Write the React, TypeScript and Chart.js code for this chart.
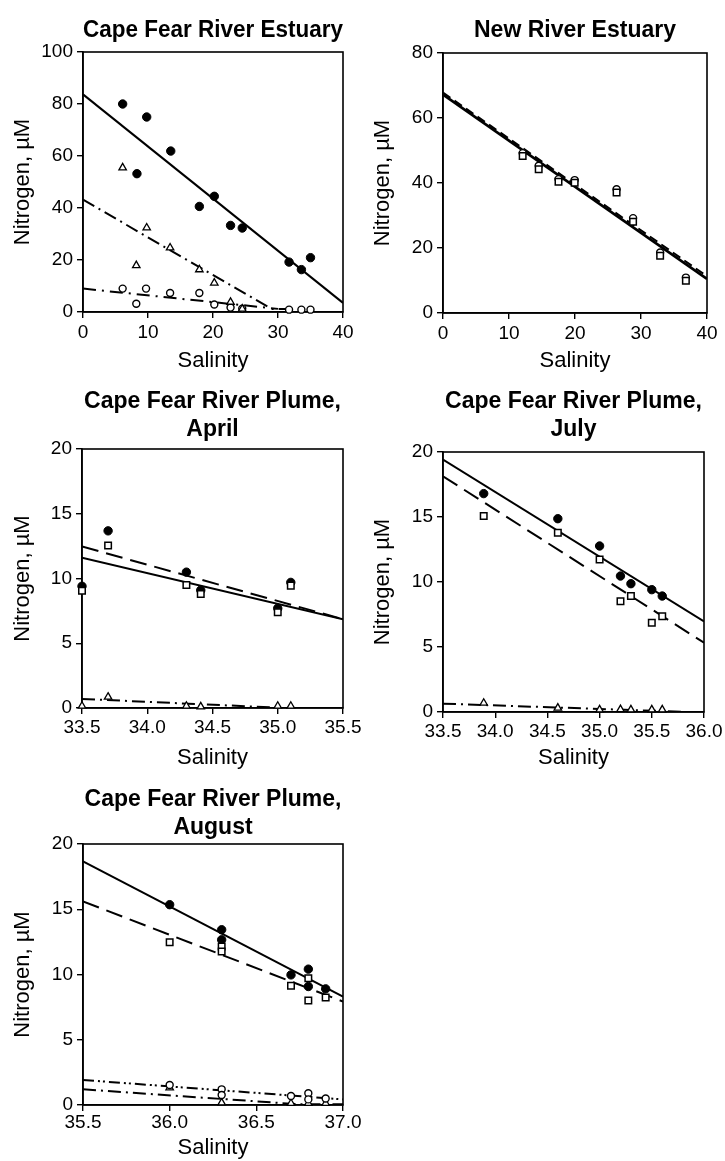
import React, { useEffect, useRef } from 'react';
import { Chart, registerables } from 'chart.js';

Chart.register(...registerables);

const FONT = '"Liberation Sans", Arial, Helvetica, sans-serif';

// ---------- Panel 1: Cape Fear River Estuary ----------
const cfeSalTotal = [6.1, 9.8, 8.3, 13.5, 17.9, 20.2, 22.7, 24.5, 31.7, 33.6, 35.0];
const cfeTotal = [80, 75, 53.2, 61.9, 40.6, 44.5, 33.3, 32.3, 19.2, 16.3, 20.9];
const cfeSalTri = [6.1, 9.8, 8.2, 13.4, 17.9, 20.2, 22.7, 24.5];
const cfeTri = [55.5, 32.4, 17.9, 24.7, 16.3, 11.2, 3.8, 1.2];
const cfeSalCirc = [6.1, 9.7, 8.2, 13.4, 17.9, 20.2, 22.7, 24.5, 31.7, 33.6, 35.0];
const cfeCirc = [9.0, 9.0, 3.2, 7.3, 7.3, 2.9, 1.7, 1.3, 0.9, 0.9, 0.9];
const cfeFitTotalX = [0, 40];
const cfeFitTotal = [83.7, 3.5];
const cfeFitTriX = [0, 29, 31.5];
const cfeFitTri = [43.2, 1.2, 1.2];
const cfeFitCircX = [0, 30];
const cfeFitCirc = [9.0, 1.2];
const estXTicks = [0, 10, 20, 30, 40];
const cfeYTicks = [0, 20, 40, 60, 80, 100];

// ---------- Panel 2: New River Estuary ----------
const nreSal = [12.07, 14.5, 17.5, 19.95, 26.3, 28.8, 32.9, 36.8];
const nreSquare = [48.3, 44.2, 40.4, 40.1, 37.1, 28.1, 17.6, 9.9];
const nreCircle = [49.2, 45.3, 41.2, 40.9, 38.1, 29.2, 18.6, 10.9];
const nreFitX = [0, 40];
const nreFitA = [67.2, 10.5];
const nreFitB = [67.8, 11.3];
const nreYTicks = [0, 20, 40, 60, 80];

// ---------- Panel 3: Cape Fear River Plume, April ----------
const aprSal = [33.5, 33.7, 34.3, 34.41, 35.0, 35.1];
const aprTotal = [9.4, 13.68, 10.49, 9.1, 7.7, 9.7];
const aprSquare = [9.05, 12.55, 9.5, 8.8, 7.4, 9.45];
const aprTri = [0.15, 0.85, 0.15, 0.1, 0.15, 0.15];
const aprFitX = [33.5, 35.5];
const aprFitTotal = [11.6, 6.86];
const aprFitSquare = [12.47, 6.86];
const aprFitTriX = [33.5, 34.95];
const aprFitTri = [0.7, 0.05];
const aprXTicks = [33.5, 34.0, 34.5, 35.0, 35.5];

// ---------- Panel 4: Cape Fear River Plume, July ----------
const julSal = [33.89, 34.6, 35.0, 35.2, 35.3, 35.5, 35.6];
const julTotal = [16.8, 14.87, 12.77, 10.46, 9.87, 9.41, 8.92];
const julSquare = [15.08, 13.79, 11.74, 8.51, 8.92, 6.87, 7.36];
const julTri = [0.69, 0.31, 0.18, 0.2, 0.18, 0.18, 0.18];
const julFitX = [33.5, 36.0];
const julFitTotal = [19.41, 6.97];
const julFitSquare = [18.13, 5.33];
const julFitTriX = [33.5, 35.8];
const julFitTri = [0.64, 0.02];
const julXTicks = [33.5, 34.0, 34.5, 35.0, 35.5, 36.0];

// ---------- Panel 5: Cape Fear River Plume, August ----------
const augSal = [36.0, 36.3, 36.3, 36.7, 36.8, 36.8, 36.9];
const augTotal = [15.35, 13.43, 12.66, 9.97, 10.41, 9.08, 8.9];
const augSquare = [12.48, 12.15, 11.76, 9.13, 9.72, 8.0, 8.24];
const augCircle = [1.53, 1.2, 0.77, 0.69, 0.9, 0.43, 0.5];
const augTriSal = [36.0, 36.3, 36.7, 36.8, 36.9];
const augTri = [1.33, 0.18, 0.13, 0.13, 0.13];
const augFitX = [35.5, 37.0];
const augFitTotal = [18.67, 8.31];
const augFitSquare = [15.6, 7.93];
const augFitCircle = [1.92, 0.43];
const augFitTriX = [35.5, 36.75, 37.0];
const augFitTri = [1.2, 0.05, 0.05];
const augXTicks = [35.5, 36.0, 36.5, 37.0];

const plumeYTicks = [0, 5, 10, 15, 20];

// ---------- helpers ----------
const pts = (xs: number[], ys: number[]) => xs.map((x, i) => ({ x, y: ys[i] }));

const filledCircle = (label: string, xs: number[], ys: number[]) => ({
  label, data: pts(xs, ys), pointStyle: 'circle', pointRadius: 4.2,
  backgroundColor: '#000', borderColor: '#000', borderWidth: 1, showLine: false, clip: false, order: 2,
});
const openSquare = (label: string, xs: number[], ys: number[]) => ({
  label, data: pts(xs, ys), pointStyle: 'rect', pointRadius: 4.6,
  backgroundColor: '#fff', borderColor: '#000', borderWidth: 1.5, showLine: false, clip: false, order: 1,
});
const openTriangle = (label: string, xs: number[], ys: number[]) => ({
  label, data: pts(xs, ys), pointStyle: 'triangle', pointRadius: 4.3,
  backgroundColor: '#fff', borderColor: '#000', borderWidth: 1.3, showLine: false, clip: false, order: 1,
});
const openCircle = (label: string, xs: number[], ys: number[]) => ({
  label, data: pts(xs, ys), pointStyle: 'circle', pointRadius: 3.5,
  backgroundColor: '#fff', borderColor: '#000', borderWidth: 1.4, showLine: false, clip: false, order: 1,
});
const fitLine = (label: string, xs: number[], ys: number[], dash: number[], width = 2) => ({
  label, data: pts(xs, ys), showLine: true, pointRadius: 0, borderColor: '#000',
  borderWidth: width, borderDash: dash, fill: false, tension: 0, order: 5,
});

const SOLID: number[] = [];
const LONGDASH = [17, 8];
const DASHDOT = [13, 5, 2, 5];
const DASHDOTDOT = [11, 4, 2, 3, 2, 4];

type Spec = {
  key: string; left: number; top: number; width: number; height: number;
  plot: [number, number, number, number];
  title: string[]; titleCenterY: number; yTitleCenterX: number; xTitleCenterY: number; xTickPad: number;
  xMin: number; xMax: number; xTicks: number[]; yMax: number; yTicks: number[]; decimals: number;
  datasets: any[];
};

const specs: Spec[] = [
  {
    key: 'cfe', left: 0, top: 0, width: 360, height: 380, plot: [83, 52, 343, 312],
    title: ['Cape Fear River Estuary'], titleCenterY: 31, yTitleCenterX: 22.5, xTitleCenterY: 361, xTickPad: 3,
    xMin: 0, xMax: 40, xTicks: estXTicks, yMax: 100, yTicks: cfeYTicks, decimals: 0,
    datasets: [
      filledCircle('Total N', cfeSalTotal, cfeTotal),
      openTriangle('Triangles', cfeSalTri, cfeTri),
      openCircle('Circles', cfeSalCirc, cfeCirc),
      fitLine('Total fit', cfeFitTotalX, cfeFitTotal, SOLID),
      fitLine('Triangle fit', cfeFitTriX, cfeFitTri, DASHDOT),
      fitLine('Circle fit', cfeFitCircX, cfeFitCirc, [13, 6, 2, 6]),
    ],
  },
  {
    key: 'nre', left: 360, top: 0, width: 365, height: 380, plot: [443, 53, 707, 313],
    title: ['New River Estuary'], titleCenterY: 31, yTitleCenterX: 382.5, xTitleCenterY: 361, xTickPad: 3,
    xMin: 0, xMax: 40, xTicks: estXTicks, yMax: 80, yTicks: nreYTicks, decimals: 0,
    datasets: [
      openCircle('Circles', nreSal, nreCircle),
      { ...openSquare('Squares', nreSal, nreSquare), order: 0 },
      fitLine('Fit A', nreFitX, nreFitA, SOLID, 2.8),
      fitLine('Fit B', nreFitX, nreFitB, [9, 5], 2),
    ],
  },
  {
    key: 'apr', left: 0, top: 380, width: 362, height: 400, plot: [82, 449, 343, 708],
    title: ['Cape Fear River Plume,', 'April'], titleCenterY: 402, yTitleCenterX: 22.5, xTitleCenterY: 758, xTickPad: 2,
    xMin: 33.5, xMax: 35.5, xTicks: aprXTicks, yMax: 20, yTicks: plumeYTicks, decimals: 1,
    datasets: [
      filledCircle('Total N', aprSal, aprTotal),
      openSquare('Squares', aprSal, aprSquare),
      openTriangle('Triangles', aprSal, aprTri),
      fitLine('Total fit', aprFitX, aprFitTotal, SOLID),
      fitLine('Square fit', aprFitX, aprFitSquare, LONGDASH),
      fitLine('Triangle fit', aprFitTriX, aprFitTri, DASHDOT),
    ],
  },
  {
    key: 'jul', left: 360, top: 380, width: 365, height: 400, plot: [443, 452, 704, 712],
    title: ['Cape Fear River Plume,', 'July'], titleCenterY: 402, yTitleCenterX: 382.5, xTitleCenterY: 758, xTickPad: 2,
    xMin: 33.5, xMax: 36.0, xTicks: julXTicks, yMax: 20, yTicks: plumeYTicks, decimals: 1,
    datasets: [
      filledCircle('Total N', julSal, julTotal),
      openSquare('Squares', julSal, julSquare),
      openTriangle('Triangles', julSal, julTri),
      fitLine('Total fit', julFitX, julFitTotal, SOLID),
      fitLine('Square fit', julFitX, julFitSquare, LONGDASH),
      fitLine('Triangle fit', julFitTriX, julFitTri, DASHDOT),
    ],
  },
  {
    key: 'aug', left: 0, top: 780, width: 365, height: 381, plot: [83, 844, 343, 1105],
    title: ['Cape Fear River Plume,', 'August'], titleCenterY: 800, yTitleCenterX: 22.5, xTitleCenterY: 1148, xTickPad: 0,
    xMin: 35.5, xMax: 37.0, xTicks: augXTicks, yMax: 20, yTicks: plumeYTicks, decimals: 1,
    datasets: [
      filledCircle('Total N', augSal, augTotal),
      openSquare('Squares', augSal, augSquare),
      openCircle('Circles', augSal, augCircle),
      openTriangle('Triangles', augTriSal, augTri),
      fitLine('Total fit', augFitX, augFitTotal, SOLID),
      fitLine('Square fit', augFitX, augFitSquare, LONGDASH),
      fitLine('Circle fit', augFitX, augFitCircle, DASHDOTDOT),
      fitLine('Triangle fit', augFitTriX, augFitTri, DASHDOT),
    ],
  },
];

const TITLE_SIZE = 23;
const AXIS_TITLE_SIZE = 22;
const TICK_SIZE = 19;
const TICK_LEN = 6;
const LH = 1.2;
const TEXT = '#000';

const framePlugin = {
  id: 'frame',
  beforeDatasetsDraw(chart: any) {
    const { ctx, chartArea: a } = chart;
    ctx.save();
    ctx.strokeStyle = '#000';
    ctx.lineWidth = 1.6;
    ctx.strokeRect(a.left, a.top, a.right - a.left, a.bottom - a.top);
    ctx.restore();
  },
};

function buildConfig(s: Spec): any {
  const [pl, pt, pr, pb] = s.plot;
  const tLH = TITLE_SIZE * LH;
  const aLH = AXIS_TITLE_SIZE * LH;
  const titlePadTop = s.titleCenterY - s.top - tLH / 2;
  const titlePadBottom = Math.max(0, pt - s.top - titlePadTop - s.title.length * tLH);
  const yTitlePad = s.yTitleCenterX - s.left - aLH / 2;
  const xTitlePad = Math.max(0, s.top + s.height - s.xTitleCenterY - aLH / 2);
  const yAxisWidth = pl - s.left;
  const xAxisHeight = s.top + s.height - pb;
  const fmt = (v: any) => (s.decimals ? Number(v).toFixed(s.decimals) : String(v));
  const grid = {
    display: true, drawOnChartArea: false, drawTicks: true, tickLength: TICK_LEN,
    color: '#000', lineWidth: 1.4,
  };
  return {
    type: 'scatter',
    data: { datasets: s.datasets },
    plugins: [framePlugin],
    options: {
      responsive: false,
      animation: false,
      events: [],
      layout: { padding: { left: 0, top: 0, right: s.left + s.width - pr, bottom: 0 } },
      plugins: {
        legend: { display: false },
        tooltip: { enabled: false },
        title: {
          display: true, text: s.title, fullSize: false, color: TEXT,
          font: { family: FONT, size: TITLE_SIZE, weight: 'bold', lineHeight: LH },
          padding: { top: titlePadTop, bottom: titlePadBottom },
        },
      },
      scales: {
        x: {
          type: 'linear', position: 'bottom', min: s.xMin, max: s.xMax,
          afterBuildTicks: (sc: any) => { sc.ticks = s.xTicks.map((v) => ({ value: v })); },
          afterFit: (sc: any) => { sc.height = xAxisHeight; sc.paddingLeft = 0; sc.paddingRight = 0; },
          grid,
          border: { display: true, color: '#000', width: 1.6 },
          ticks: {
            color: TEXT, font: { family: FONT, size: TICK_SIZE, lineHeight: LH },
            padding: s.xTickPad, maxRotation: 0, autoSkip: false, callback: fmt,
          },
          title: {
            display: true, text: 'Salinity', color: TEXT,
            font: { family: FONT, size: AXIS_TITLE_SIZE, lineHeight: LH },
            padding: { top: 0, bottom: xTitlePad },
          },
        },
        y: {
          type: 'linear', position: 'left', min: 0, max: s.yMax,
          afterBuildTicks: (sc: any) => { sc.ticks = s.yTicks.map((v) => ({ value: v })); },
          afterFit: (sc: any) => { sc.width = yAxisWidth; sc.paddingTop = 0; sc.paddingBottom = 0; },
          grid,
          border: { display: true, color: '#000', width: 1.6 },
          ticks: {
            color: TEXT, font: { family: FONT, size: TICK_SIZE, lineHeight: LH },
            padding: 4, autoSkip: false, callback: (v: any) => String(v),
          },
          title: {
            display: true, text: 'Nitrogen, µM', color: TEXT,
            font: { family: FONT, size: AXIS_TITLE_SIZE, lineHeight: LH },
            padding: { top: yTitlePad, bottom: 0 },
          },
        },
      },
    },
  };
}

function Panel({ spec }: { spec: Spec }) {
  const ref = useRef<HTMLCanvasElement | null>(null);
  useEffect(() => {
    if (!ref.current) return;
    const chart = new Chart(ref.current, buildConfig(spec));
    return () => chart.destroy();
  }, [spec]);
  return (
    <div style={{ position: 'absolute', left: spec.left, top: spec.top, width: spec.width, height: spec.height }}>
      <canvas ref={ref} width={spec.width} height={spec.height}
        style={{ display: 'block', width: spec.width, height: spec.height }} />
    </div>
  );
}

export default function App() {
  return (
    <div style={{ position: 'absolute', left: 0, top: 0, width: 725, height: 1161, background: '#fff', overflow: 'hidden' }}>
      {specs.map((s) => <Panel key={s.key} spec={s} />)}
    </div>
  );
}
